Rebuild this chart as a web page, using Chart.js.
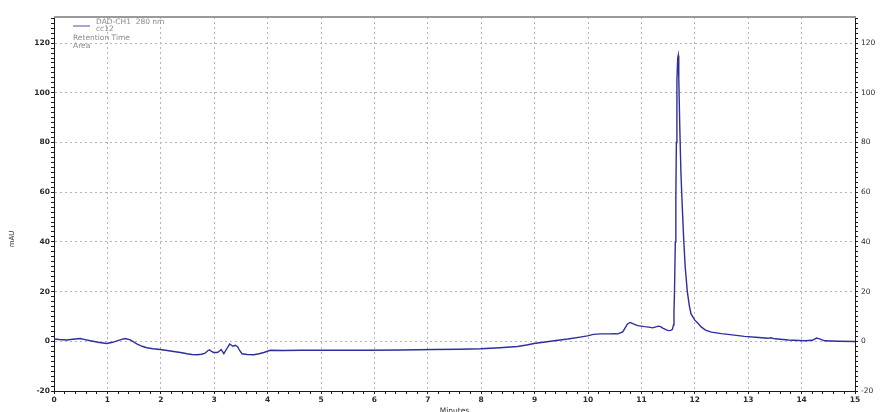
<!DOCTYPE html>
<html>
<head>
<meta charset="utf-8">
<title>DAD-CH1 280 nm</title>
<script src="https://cdn.jsdelivr.net/npm/chart.js@4.4.1/dist/chart.umd.min.js"></script>
<style>
  html, body { margin: 0; padding: 0; background: #ffffff; }
  #wrap { width: 891px; height: 412px; position: relative; }
</style>
</head>
<body>
<div id="wrap"><canvas id="chrom" width="891" height="412"></canvas></div>
<script>
// Retention time (minutes) and detector response (mAU) for channel DAD-CH1, 280 nm
const retentionTime = [
  0.00, 0.10, 0.24, 0.35, 0.49, 0.58, 0.68, 0.85, 0.99, 1.10,
  1.18, 1.27, 1.33, 1.43, 1.55, 1.65, 1.74, 1.85, 1.99, 2.12,
  2.24, 2.37, 2.49, 2.58, 2.68, 2.76, 2.83, 2.88, 2.91, 2.95,
  2.99, 3.05, 3.08, 3.13, 3.18, 3.23, 3.29, 3.35, 3.40, 3.44,
  3.48, 3.52, 3.62, 3.74, 3.84, 3.93, 4.05, 4.30, 4.62, 5.00,
  5.50, 5.87, 6.50, 7.12, 7.60, 7.99, 8.35, 8.68, 8.85, 8.99,
  9.30, 9.62, 9.85, 9.99, 10.10, 10.24, 10.40, 10.49, 10.56, 10.65,
  10.71, 10.74, 10.79, 10.85, 10.93, 11.06, 11.14, 11.21, 11.27, 11.32,
  11.36, 11.40, 11.50, 11.55, 11.58, 11.60, 11.61, 11.62, 11.635, 11.645,
  11.655, 11.665, 11.68, 11.69, 11.70, 11.72, 11.74, 11.76, 11.79, 11.82,
  11.86, 11.90, 11.93, 12.00, 12.05, 12.12, 12.20, 12.31, 12.50, 12.70,
  12.93, 13.20, 13.37, 13.42, 13.50, 13.75, 14.06, 14.20, 14.28, 14.35,
  14.43, 14.70, 15.00
];
const absorbance = [
  0.9, 0.7, 0.5, 0.8, 1.1, 0.7, 0.2, -0.5, -0.9, -0.4,
  0.2, 0.8, 1.1, 0.6, -1.0, -2.0, -2.6, -3.0, -3.3, -3.7,
  -4.1, -4.5, -5.0, -5.3, -5.4, -5.2, -4.8, -3.8, -3.4, -4.1,
  -4.5, -4.5, -4.3, -3.3, -5.0, -3.2, -1.1, -2.0, -1.6, -2.3,
  -3.8, -5.0, -5.3, -5.4, -5.0, -4.5, -3.6, -3.7, -3.6, -3.6,
  -3.6, -3.6, -3.5, -3.3, -3.2, -3.0, -2.6, -2.1, -1.5, -0.9,
  0.0, 0.9, 1.7, 2.2, 2.8, 3.0, 3.0, 3.1, 3.0, 3.8,
  5.9, 7.0, 7.6, 7.0, 6.3, 5.9, 5.7, 5.4, 5.8, 6.1,
  5.9, 5.3, 4.3, 4.4, 4.8, 6.5, 12, 20, 40, 58,
  80, 105, 114, 115, 106, 85, 68, 57, 42, 30,
  20, 14, 11, 8.5, 7.5, 5.8, 4.5, 3.7, 3.1, 2.6,
  2.0, 1.5, 1.2, 1.4, 1.0, 0.5, 0.2, 0.4, 1.3, 0.9,
  0.2, 0.0, -0.1
];

// Axis ranges and labelled (major) tick values
const timeRange = [0, 15];
const responseRange = [-20, 130.5];
const timeLabels = [0, 1, 2, 3, 4, 5, 6, 7, 8, 9, 10, 11, 12, 13, 14, 15];
const responseLabels = [-20, 0, 20, 40, 60, 80, 100, 120];

// Legend / annotation lines shown in the upper left corner
const legendLines = ['DAD-CH1  280 nm', 'cc12'];
const annotationLines = ['Retention Time', 'Area'];

const LINE_COLOR = '#2e2e9e';
const GRID_COLOR = '#b4b4b4';
const AXIS_COLOR = '#1a1a1a';
const TEXT_COLOR = '#2a2a2a';
const FONT = 'DejaVu Sans';

Chart.defaults.font.family = FONT;
Chart.defaults.font.size = 7.5;
Chart.defaults.color = TEXT_COLOR;

const points = retentionTime.map((t, i) => ({ x: t, y: absorbance[i] }));

// minor ticks: every 0.2 min on the time axis, every 2 mAU on the response axis
function minorTicks(lo, hi, step) {
  const out = [];
  const n = Math.round((hi - lo) / step);
  for (let i = 0; i <= n; i++) out.push({ value: Math.round((lo + i * step) * 1000) / 1000 });
  return out;
}
const isLabelled = (list, v) => list.some(m => Math.abs(m - v) < 1e-6);

const timeTicks = minorTicks(timeRange[0], timeRange[1], 0.2);
const responseTicks = minorTicks(responseRange[0], 130, 2);

const tickFont = { family: FONT, size: 7.5, weight: 'bold' };

// Text decorations: y-axis unit, legend swatch and annotation text, top frame line
const decorations = {
  id: 'decorations',
  afterDraw(chart) {
    const { ctx, chartArea } = chart;
    ctx.save();
    // top frame
    ctx.strokeStyle = '#9a9a9a';
    ctx.lineWidth = 2;
    ctx.beginPath();
    ctx.moveTo(chartArea.left, chartArea.top);
    ctx.lineTo(chartArea.right + 1, chartArea.top);
    ctx.stroke();

    // unit label on the left
    ctx.fillStyle = '#333';
    ctx.font = '7px ' + FONT;
    ctx.translate(12, 239);
    ctx.rotate(-Math.PI / 2);
    ctx.textAlign = 'center';
    ctx.textBaseline = 'middle';
    ctx.fillText('mAU', 0, 0);
    ctx.restore();

    ctx.save();
    const lx = chartArea.left + 19;
    // legend swatch
    ctx.strokeStyle = '#6c6cb0';
    ctx.lineWidth = 1.2;
    ctx.beginPath();
    ctx.moveTo(lx, 26);
    ctx.lineTo(lx + 17, 26);
    ctx.stroke();
    ctx.fillStyle = '#8a8a8a';
    ctx.font = '7.5px ' + FONT;
    ctx.textAlign = 'left';
    ctx.textBaseline = 'middle';
    ctx.fillText(legendLines[0], lx + 23, 22);
    ctx.fillText(legendLines[1], lx + 23, 29.5);
    ctx.fillText(annotationLines[0], lx, 38);
    ctx.fillText(annotationLines[1], lx, 46);
    ctx.restore();
  }
};

const majorGrid = (labels) => (c) => (c.tick && isLabelled(labels, c.tick.value)) ? GRID_COLOR : 'rgba(0,0,0,0)';

new Chart(document.getElementById('chrom'), {
  type: 'scatter',
  data: {
    datasets: [{
      label: legendLines.join(' '),
      data: points,
      showLine: true,
      borderColor: LINE_COLOR,
      borderWidth: 1.4,
      pointRadius: 0,
      tension: 0,
      fill: false
    }]
  },
  options: {
    responsive: false,
    animation: false,
    layout: { padding: { top: 17, left: 0, right: 0, bottom: 0 } },
    plugins: { legend: { display: false }, tooltip: { enabled: false } },
    scales: {
      x: {
        type: 'linear',
        position: 'bottom',
        min: timeRange[0],
        max: timeRange[1],
        afterBuildTicks: (s) => { s.ticks = timeTicks.map(t => ({ value: t.value })); },
        afterFit: (s) => { s.height = 21; },
        ticks: {
          autoSkip: false,
          maxRotation: 0,
          padding: 2,
          color: TEXT_COLOR,
          font: tickFont,
          callback: (v) => isLabelled(timeLabels, v) ? String(Math.round(v)) : ''
        },
        grid: {
          color: majorGrid(timeLabels),
          lineWidth: 1,
          tickColor: AXIS_COLOR,
          tickLength: 3,
          drawOnChartArea: true
        },
        border: { display: true, color: AXIS_COLOR, width: 1, dash: [2, 3] },
        title: {
          display: true,
          text: 'Minutes',
          color: '#333',
          font: { size: 7.5 },
          padding: { top: 0, bottom: -4 }
        }
      },
      y: {
        type: 'linear',
        position: 'left',
        min: responseRange[0],
        max: responseRange[1],
        afterBuildTicks: (s) => { s.ticks = responseTicks.map(t => ({ value: t.value })); },
        afterFit: (s) => { s.width = 54; },
        ticks: {
          autoSkip: false,
          padding: 1,
          color: TEXT_COLOR,
          font: tickFont,
          callback: (v) => isLabelled(responseLabels, v) ? String(v) : ''
        },
        grid: {
          color: majorGrid(responseLabels),
          lineWidth: 1,
          tickColor: AXIS_COLOR,
          tickLength: 3,
          drawOnChartArea: true
        },
        border: { display: true, color: AXIS_COLOR, width: 1, dash: [2, 3] }
      },
      y2: {
        type: 'linear',
        position: 'right',
        min: responseRange[0],
        max: responseRange[1],
        afterBuildTicks: (s) => { s.ticks = responseTicks.map(t => ({ value: t.value })); },
        afterFit: (s) => { s.width = 36; },
        ticks: {
          autoSkip: false,
          padding: 3,
          color: TEXT_COLOR,
          font: { family: FONT, size: 7.5 },
          callback: (v) => isLabelled(responseLabels, v) ? String(v) : ''
        },
        grid: {
          drawOnChartArea: false,
          tickColor: AXIS_COLOR,
          tickLength: 3
        },
        border: { display: true, color: AXIS_COLOR, width: 1 }
      }
    }
  },
  plugins: [decorations]
});
</script>
</body>
</html>
